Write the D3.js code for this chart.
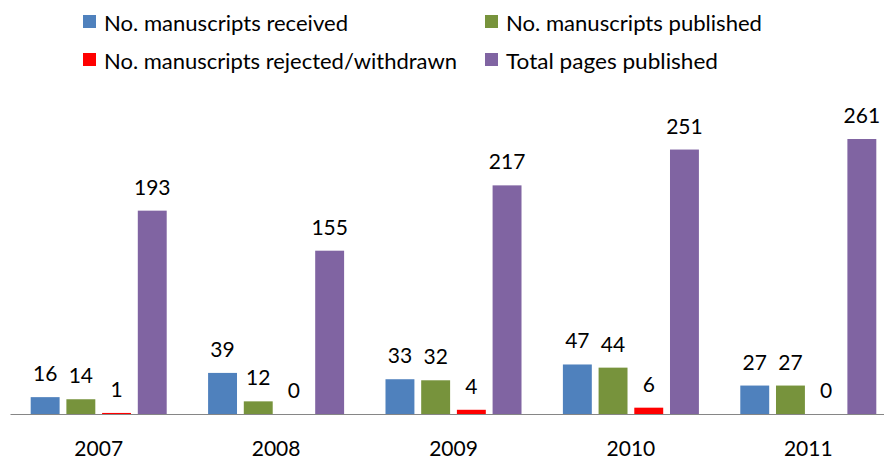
<!DOCTYPE html>
<html>
<head>
<meta charset="utf-8">
<script src="https://cdn.jsdelivr.net/npm/d3@7"></script>
<style>
  body { margin: 0; background: #fff; }
  svg { display: block; font-family: Lato, "Open Sans", sans-serif; }
</style>
</head>
<body>
<svg id="chart" width="884" height="461"></svg>
<script>
// data
var years = ["2007", "2008", "2009", "2010", "2011"],
    received = [16, 39, 33, 47, 27],
    published = [14, 12, 32, 44, 27],
    rejected = [1, 0, 4, 6, 0],
    pages = [193, 155, 217, 251, 261];

var series = [
  {key: "No. manuscripts received", values: received, color: "#4F81BD"},
  {key: "No. manuscripts published", values: published, color: "#77933C"},
  {key: "No. manuscripts rejected/withdrawn", values: rejected, color: "#FF0000"},
  {key: "Total pages published", values: pages, color: "#8064A2"}
];

var svg = d3.select("#chart"),
    baseY = 414,
    groupW = 142.8;

var x0 = d3.scaleBand()
    .domain(years)
    .range([10, 897])
    .padding(0);

var x1 = d3.scaleBand()
    .domain(series.map(function(s) { return s.key; }))
    .range([0, groupW])
    .paddingInner(0.19)
    .paddingOuter(0.095);

var y = d3.scaleLinear()
    .domain([0, 300])
    .range([baseY, baseY - 300 * 1.0536]);

function groupX(yr) { return x0(yr) + (x0.bandwidth() - groupW) / 2; }

// bars
var groups = svg.selectAll(".series")
    .data(series)
  .enter().append("g")
    .attr("class", "series");

groups.selectAll("rect")
    .data(function(s) { return s.values.map(function(v, i) { return {key: s.key, v: v, yr: years[i], color: s.color}; }); })
  .enter().append("rect")
    .attr("x", function(d) { return groupX(d.yr) + x1(d.key); })
    .attr("width", x1.bandwidth())
    .attr("y", function(d) { return y(d.v); })
    .attr("height", function(d) { return baseY - y(d.v); })
    .style("fill", function(d) { return d.color; });

// value labels
groups.selectAll("text")
    .data(function(s) { return s.values.map(function(v, i) { return {key: s.key, v: v, yr: years[i]}; }); })
  .enter().append("text")
    .attr("x", function(d) { return groupX(d.yr) + x1(d.key) + x1.bandwidth() / 2; })
    .attr("y", function(d) { return y(d.v) - 16; })
    .attr("text-anchor", "middle")
    .style("font-size", "21px")
    .style("fill", "#000")
    .text(function(d) { return d.v; });

// x axis
var xAxis = svg.append("g")
    .attr("transform", "translate(0," + baseY + ")")
    .call(d3.axisBottom(x0).tickSize(0).tickSizeOuter(0));

xAxis.select(".domain")
    .attr("stroke", "#868686")
    .attr("stroke-width", 1.2);

xAxis.selectAll("text")
    .attr("y", 42)
    .attr("dy", 0)
    .style("font-family", "Lato, 'Open Sans', sans-serif")
    .style("font-size", "21px")
    .style("fill", "#000");

// legend
var legendPos = [
  {x: 83, y: 31, w: 244},
  {x: 485, y: 31, w: 256},
  {x: 83, y: 69, w: 353},
  {x: 485, y: 69, w: 212}
];

var legend = svg.selectAll(".legend")
    .data(series)
  .enter().append("g")
    .attr("class", "legend")
    .attr("transform", function(d, i) { return "translate(" + legendPos[i].x + "," + legendPos[i].y + ")"; });

legend.append("rect")
    .attr("x", 0)
    .attr("y", -16)
    .attr("width", 13)
    .attr("height", 13)
    .style("fill", function(d) { return d.color; });

legend.append("text")
    .attr("x", 21)
    .attr("y", 0)
    .attr("textLength", function(d, i) { return legendPos[i].w; })
    .attr("lengthAdjust", "spacingAndGlyphs")
    .style("font-size", "22px")
    .style("fill", "#000")
    .text(function(d) { return d.key; });
</script>
</body>
</html>
